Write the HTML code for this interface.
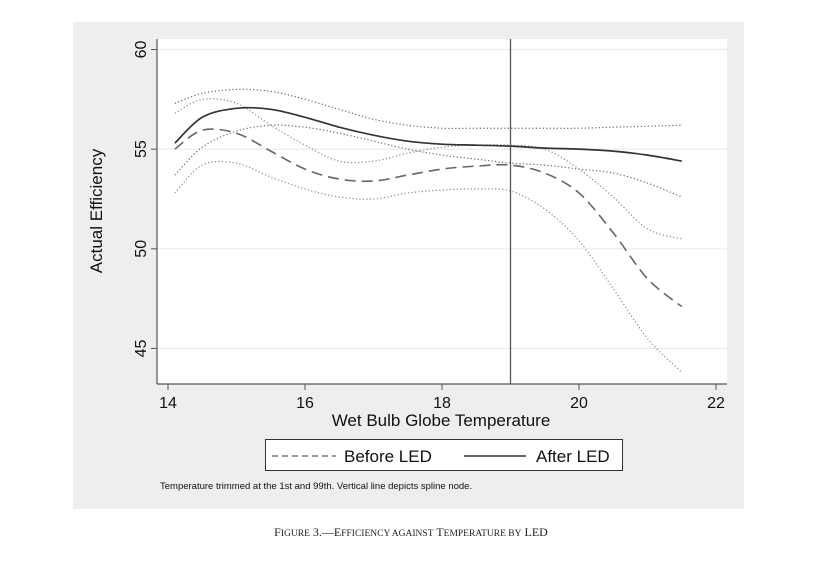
<!DOCTYPE html>
<html><head><meta charset="utf-8"><style>
body{margin:0;background:#fff;width:823px;height:562px;overflow:hidden}
svg{display:block;font-family:"Liberation Sans",Arial,sans-serif}
</style></head><body>
<svg id="chart" width="823" height="562" viewBox="0 0 823 562">
<rect x="73" y="22" width="671" height="487" fill="#eeeeee"/>
<rect x="157" y="39" width="570" height="345" fill="#fff"/>
<g id="grid"></g>
<g id="series"></g>
<g id="axes"></g>
<text x="102" y="211" transform="rotate(-90 102 211)" text-anchor="middle" font-size="17" fill="#111">Actual Efficiency</text>
<text x="441" y="426" text-anchor="middle" font-size="17" fill="#111">Wet Bulb Globe Temperature</text>
<g>
<rect x="265.5" y="439.5" width="357" height="31" fill="#fff" stroke="#333" stroke-width="1"/>
<line x1="272" y1="456" x2="336" y2="456" stroke="#777" stroke-width="1.5" stroke-dasharray="6,4"/>
<text x="344" y="462" font-size="17" fill="#111">Before LED</text>
<line x1="464" y1="456" x2="526" y2="456" stroke="#333" stroke-width="1.5"/>
<text x="536" y="462" font-size="17" fill="#111">After LED</text>
</g>
<text x="160" y="489" font-size="9.5" fill="#111">Temperature trimmed at the 1st and 99th. Vertical line depicts spline node.</text>
<text x="411" y="536" text-anchor="middle" font-family="Liberation Serif,serif" font-size="12" fill="#222">F<tspan font-size="9.5">IGURE</tspan> 3.—E<tspan font-size="9.5">FFICIENCY AGAINST</tspan> T<tspan font-size="9.5">EMPERATURE BY</tspan> LED</text>
</svg>
<script>
const xVals=[14.1,14.5,15,15.5,16,16.5,17,17.5,18,18.5,19,19.5,20,20.5,21,21.5];
const afterLED=[55.3,56.6,57.05,57.0,56.6,56.1,55.7,55.4,55.25,55.2,55.15,55.05,55.0,54.9,54.7,54.4];
const afterUpper=[57.3,57.8,58.0,57.9,57.5,57.0,56.5,56.2,56.05,56.05,56.05,56.05,56.05,56.1,56.15,56.2];
const afterLower=[53.7,55.1,55.9,56.2,56.1,55.8,55.4,55.0,54.7,54.5,54.3,54.2,54.0,53.8,53.3,52.6];
const beforeLED=[55.0,55.95,55.8,54.9,54.0,53.5,53.4,53.7,54.0,54.15,54.2,53.8,52.8,50.8,48.5,47.1];
const beforeUpper=[56.8,57.5,57.3,56.2,55.2,54.4,54.4,54.8,55.1,55.2,55.2,55.0,54.0,52.6,51.0,50.5];
const beforeLower=[52.8,54.2,54.3,53.6,53.0,52.6,52.5,52.8,52.95,53.0,52.9,52.0,50.4,48.0,45.5,43.8];
const xTicks=[14,16,18,20,22];
const yTicks=[45,50,55,60];
const splineNode=19;
const X=v=>168+(v-14)*68.5;
const Y=v=>49.5+(60-v)*19.93;
const NS='http://www.w3.org/2000/svg';
const mk=(t,a,p)=>{const e=document.createElementNS(NS,t);for(const k in a)e.setAttribute(k,a[k]);p.appendChild(e);return e;};
const grid=document.getElementById('grid'),axes=document.getElementById('axes'),ser=document.getElementById('series');
yTicks.forEach(v=>{
 const g=mk('line',{x1:157,x2:727,y1:Y(v),y2:Y(v),stroke:'#ececec','stroke-width':1.2},grid);
 
 
 const t=mk('line',{x1:151,x2:157,y1:Y(v),y2:Y(v),stroke:'#555','stroke-width':1},axes);
 
 
 const l=mk('text',{x:0,y:0,transform:`translate(146 ${Y(v)}) rotate(-90)`,'text-anchor':'middle','font-size':16,fill:'#111'},axes);
 l.textContent=v;
 
 
});
xTicks.forEach(v=>{
 const t=mk('line',{x1:X(v),x2:X(v),y1:384,y2:390,stroke:'#555','stroke-width':1},axes);
 
 
 const l=mk('text',{x:X(v),y:408,'text-anchor':'middle','font-size':16,fill:'#111'},axes);
 l.textContent=v;
 
 
});
const ya=mk('line',{x1:157,x2:157,y1:39,y2:384,stroke:'#555','stroke-width':1.2},axes);


const xa=mk('line',{x1:157,x2:727,y1:384,y2:384,stroke:'#555','stroke-width':1.2},axes);


function path(ys){
 const p=xVals.map((x,i)=>[X(x),Y(ys[i])]);
 let d=`M${p[0][0]},${p[0][1]}`;
 for(let i=0;i<p.length-1;i++){
  const p0=p[i-1]||p[i],p1=p[i],p2=p[i+1],p3=p[i+2]||p2;
  const c1=[p1[0]+(p2[0]-p0[0])/6,p1[1]+(p2[1]-p0[1])/6],c2=[p2[0]-(p3[0]-p1[0])/6,p2[1]-(p3[1]-p1[1])/6];
  d+=`C${c1[0]},${c1[1]} ${c2[0]},${c2[1]} ${p2[0]},${p2[1]}`;
 }
 return d;
}
const defs=[[afterUpper,'after-ci-upper','#666','1.2,2.3',1.2],[afterLower,'after-ci-lower','#666','1.2,2.3',1.2],[beforeUpper,'before-ci-upper','#888','1.2,2.3',1.2],[beforeLower,'before-ci-lower','#888','1.2,2.3',1.2],[beforeLED,'before-led-line','#666','11,6',1.6],[afterLED,'after-led-line','#333','',1.7]];
defs.forEach(([ys,n,c,da,w])=>{
 const e=mk('path',{d:path(ys),fill:'none',stroke:c,'stroke-width':w,'stroke-dasharray':da},ser);
 
 
});
const vl=mk('line',{x1:X(splineNode),x2:X(splineNode),y1:39,y2:384,stroke:'#555','stroke-width':1.3},ser);


</script>
</body></html>
